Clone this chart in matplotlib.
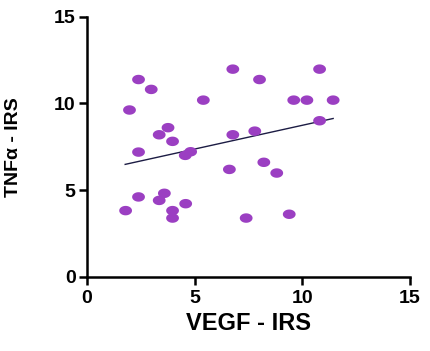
import numpy as np
import matplotlib.pyplot as plt
from matplotlib.path import Path

plt.rcParams['font.family'] = ['Liberation Sans', 'DejaVu Sans']

# VEGF - IRS vs TNFa - IRS
vegf = [2.40, 2.99, 1.98, 3.77, 3.36, 3.98, 2.40, 4.57, 4.82, 5.41,
        6.78, 8.02, 6.78, 7.80, 6.62, 8.22, 8.82, 9.61, 10.22, 11.44,
        10.81, 10.81, 2.40, 3.60, 3.36, 4.59, 1.80, 3.98, 3.98, 7.40, 9.40]
tnfa = [11.38, 10.81, 9.62, 8.60, 8.19, 7.81, 7.19, 7.00, 7.21, 10.19,
        11.98, 11.38, 8.19, 8.40, 6.19, 6.60, 5.98, 10.19, 10.19, 10.19,
        11.98, 9.00, 4.60, 4.81, 4.40, 4.21, 3.81, 3.81, 3.38, 3.38, 3.60]

# regression line ends
fit_x = [1.78, 11.44]
fit_y = [6.48, 9.13]

ticks = [0, 5, 10, 15]

# slightly flattened dot, the source image is stretched sideways
t = np.linspace(0, 2 * np.pi, 40)
ellipse = Path(np.column_stack([np.cos(t), 0.74 * np.sin(t)]), closed=True)

fig = plt.figure(figsize=(4.3, 3.51), dpi=100)
ax = fig.add_axes([0.202, 0.212, 0.751, 0.740])

ax.scatter(vegf, tnfa, marker=ellipse, s=85, color='#9b3fc2', edgecolors='none', zorder=3)
ax.plot(fit_x, fit_y, color='#1c1c44', lw=1.0, zorder=2)

ax.set_xlim(0, 15)
ax.set_ylim(0, 15)
ax.set_xticks(ticks)
ax.set_yticks(ticks)
ax.tick_params(labelsize=14, width=1.8, length=6, pad=2)
ax.tick_params(axis='x', pad=4)
for lab in ax.get_xticklabels() + ax.get_yticklabels():
    lab.set_fontweight('bold')

for s in ['top', 'right']:
    ax.spines[s].set_visible(False)
for s in ['left', 'bottom']:
    ax.spines[s].set_linewidth(1.8)

ax.set_xlabel('VEGF - IRS', fontsize=17, fontweight='bold', labelpad=3)
ax.set_ylabel('TNFα - IRS', fontsize=14, fontweight='bold')
ax.yaxis.set_label_coords(-0.20, 0.5)

fig.savefig('out.png', dpi=100)
